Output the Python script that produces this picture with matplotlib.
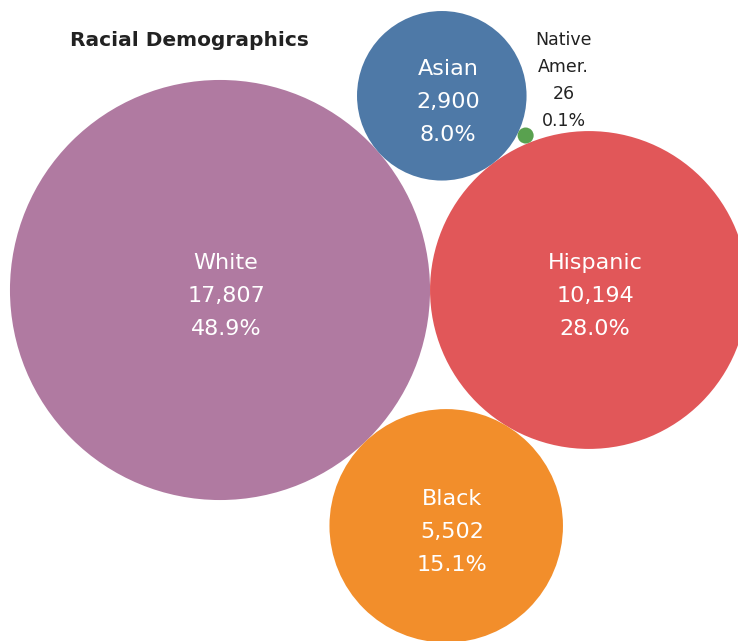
import numpy as np
import matplotlib.pyplot as plt
from matplotlib.patches import Circle

# data
groups = ["White", "Hispanic", "Black", "Asian", "Native\nAmer."]
counts = [17807, 10194, 5502, 2900, 26]
shares = [48.9, 28.0, 15.1, 8.0, 0.1]
colors = ["#B07AA1", "#E15759", "#F28E2B", "#4E79A7", "#59A14F"]

k = 1.574  # px per sqrt(count)
radii = [k * np.sqrt(c) for c in counts]


def tangent(ca, ra, cb, rb, r, side):
    # centre of a circle of radius r touching circles a and b
    ca, cb = np.array(ca), np.array(cb)
    d = np.linalg.norm(cb - ca)
    d1, d2 = ra + r, rb + r
    a = np.arccos((d1**2 + d**2 - d2**2) / (2 * d1 * d))
    base = np.arctan2(cb[1] - ca[1], cb[0] - ca[0])
    ang = base + side * a
    return ca + d1 * np.array([np.cos(ang), np.sin(ang)])


centres = [None] * 5
centres[0] = np.array([220.0, 290.0])
centres[1] = centres[0] + np.array([radii[0] + radii[1], 0.0])
centres[2] = tangent(centres[0], radii[0], centres[1], radii[1], radii[2], 1)
centres[3] = tangent(centres[0], radii[0], centres[1], radii[1], radii[3], -1)
centres[4] = tangent(centres[3], radii[3], centres[1], radii[1], radii[4], -1)

fig = plt.figure(figsize=(7.38, 6.41), dpi=100)
ax = fig.add_axes([0, 0, 1, 1])
ax.set_xlim(0, 738)
ax.set_ylim(641, 0)
ax.set_aspect("equal")
ax.axis("off")

for i in range(5):
    ax.add_patch(Circle(centres[i], radii[i], color=colors[i], lw=0))

for i in range(4):
    x, y = centres[i]
    txt = f"{groups[i]}\n{counts[i]:,}\n{shares[i]:.1f}%"
    ax.text(x + 6, y + 6, txt, color="white", fontsize=16, ha="center", va="center",
            linespacing=1.8)

x, y = centres[4]
ax.text(x + 38, y - 55, f"{groups[4]}\n{counts[4]:,}\n{shares[4]:.1f}%",
        color="#222222", fontsize=12.5, ha="center", va="center", linespacing=1.65)

ax.text(70, 40, "Racial Demographics", fontsize=14.5, fontweight="bold",
        color="#222222", va="center")

fig.savefig("out.png", dpi=100)
